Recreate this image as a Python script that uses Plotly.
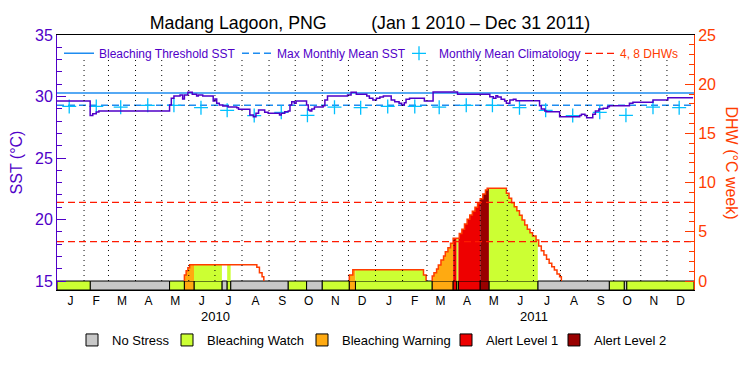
import pandas as pd
import plotly.graph_objects as go

# ---------------- data ----------------
TITLE = "Madang Lagoon, PNG" + "\u00a0" * 9 + "(Jan 1 2010 \u2013 Dec 31 2011)"
START, END = "2010-01-01", "2012-01-01"

SST_DATES = [
    "2010-01-01", "2010-02-08", "2010-02-11", "2010-02-15", "2010-02-18", "2010-05-10",
    "2010-05-12", "2010-05-15", "2010-05-22", "2010-05-25", "2010-05-27", "2010-05-31",
    "2010-06-05", "2010-06-10", "2010-06-12", "2010-06-17", "2010-06-29", "2010-07-01",
    "2010-07-03", "2010-07-06", "2010-07-10", "2010-07-16", "2010-07-26", "2010-07-28",
    "2010-08-10", "2010-08-14", "2010-08-17", "2010-08-20", "2010-08-27", "2010-08-31",
    "2010-09-13", "2010-09-15", "2010-09-19", "2010-09-23", "2010-09-25", "2010-09-27",
    "2010-09-30", "2010-10-02", "2010-10-14", "2010-10-16", "2010-10-18", "2010-10-20",
    "2010-10-23", "2010-11-02", "2010-11-04", "2010-11-07", "2010-11-30", "2010-12-04",
    "2010-12-10", "2010-12-22", "2010-12-25", "2010-12-29", "2011-01-02", "2011-01-06",
    "2011-01-10", "2011-01-19", "2011-01-23", "2011-01-28", "2011-01-31", "2011-02-03",
    "2011-02-05", "2011-02-09", "2011-02-26", "2011-03-08", "2011-04-05", "2011-05-12",
    "2011-05-16", "2011-05-19", "2011-05-21", "2011-05-25", "2011-05-29", "2011-05-31",
    "2011-06-04", "2011-06-08", "2011-06-11", "2011-07-08", "2011-07-10", "2011-07-14",
    "2011-07-16", "2011-07-31", "2011-08-23", "2011-08-25", "2011-08-29", "2011-08-31",
    "2011-09-07", "2011-09-10", "2011-09-14", "2011-09-19", "2011-09-24", "2011-09-26",
    "2011-10-19", "2011-10-23", "2011-11-15", "2011-12-02", "2011-12-31",
]
SST_VALUES = [
    29.63, 28.45, 28.60, 28.75, 28.82, 29.31,
    29.85, 30.04, 30.12, 29.80, 30.12, 30.34,
    30.18, 30.04, 30.12, 30.04, 29.63, 29.80,
    29.45, 29.31, 29.23, 29.15, 29.09, 28.96,
    28.50, 28.36, 28.63, 28.90, 28.72, 28.63,
    28.50, 28.63, 28.77, 28.82, 29.31, 29.58,
    29.45, 29.63, 29.31, 28.90, 28.82, 28.98,
    29.15, 29.25, 29.72, 30.04, 30.12, 30.34,
    30.18, 30.04, 29.85, 29.72, 29.85, 29.96,
    30.04, 29.72, 29.58, 29.45, 29.31, 29.50,
    29.77, 29.85, 29.63, 30.37, 30.18, 29.98,
    29.85, 30.07, 29.96, 29.77, 29.63, 29.45,
    29.72, 29.77, 29.66, 29.25, 28.98, 28.82,
    28.77, 28.36, 28.45, 28.55, 28.45, 28.28,
    28.55, 28.82, 28.98, 29.04, 29.17, 29.25,
    29.45, 29.53, 29.72, 29.90, 29.90,
]

# monthly mean climatology (Jan..Dec), shown for both years
CLIM_MONTHLY = [29.19, 29.19, 29.13, 29.28, 29.28, 29.09, 28.88, 28.45, 28.71, 28.47, 29.13, 29.09]

DHW_DATES = [
    "2010-05-27", "2010-05-29", "2010-05-31", "2010-06-02", "2010-08-18", "2010-08-21",
    "2010-08-24", "2010-08-26",
    "2010-12-02", "2010-12-06", "2011-02-25", "2011-02-28",
    "2011-03-07", "2011-03-09", "2011-03-12", "2011-03-14", "2011-03-17", "2011-03-20",
    "2011-03-22", "2011-03-25", "2011-03-28", "2011-03-31", "2011-04-07", "2011-04-10",
    "2011-04-13", "2011-04-16", "2011-04-19", "2011-04-22", "2011-04-25", "2011-04-28",
    "2011-05-01", "2011-05-04", "2011-05-07", "2011-05-09", "2011-05-31", "2011-06-03",
    "2011-06-06", "2011-06-09", "2011-06-12", "2011-06-15", "2011-06-18", "2011-06-21",
    "2011-06-24", "2011-06-27", "2011-06-30", "2011-07-04", "2011-07-07", "2011-07-10",
    "2011-07-13", "2011-07-16", "2011-07-19", "2011-07-22", "2011-07-25", "2011-07-28",
    "2011-07-31", "2011-08-02",
]
DHW_VALUES = [
    0.60, 1.05, 1.35, 1.66, 1.39, 0.84,
    0.44, 0.0,
    0.60, 1.15, 0.60, 0.0,
    0.51, 0.85, 1.22, 1.63, 2.13, 2.54,
    2.98, 3.39, 3.83, 4.34, 4.84, 5.25,
    5.79, 6.27, 6.71, 7.08, 7.49, 7.93,
    8.37, 8.84, 9.25, 9.42, 8.91, 8.40,
    7.96, 7.55, 7.15, 6.68, 6.20, 5.69,
    5.25, 4.91, 4.57, 4.17, 3.56, 3.08,
    2.64, 2.20, 1.80, 1.45, 1.12, 0.71,
    0.44, 0.0,
]
DHW_LEVELS = [4, 8]

STATUS_START = [
    "2010-01-01", "2010-02-08", "2010-05-10", "2010-05-27", "2010-06-07", "2010-07-09",
    "2010-07-15", "2010-07-19", "2010-09-23", "2010-10-14", "2010-11-01", "2010-12-02",
    "2010-12-09", "2011-03-07", "2011-03-31", "2011-04-04", "2011-04-06", "2011-05-01",
    "2011-05-11", "2011-07-06", "2011-09-26", "2011-10-13", "2011-10-16",
]
STATUS_CODE = [1, 0, 1, 2, 1, 0, 1, 0, 1, 0, 1, 2, 1, 2, 3, 1, 3, 4, 1, 0, 1, 0, 1]
STATUS_NAMES = ["No Stress", "Bleaching Watch", "Bleaching Warning", "Alert Level 1", "Alert Level 2"]
STATUS_COLORS = ["#C8C8C8", "#CCFF33", "#FFAA11", "#EE0000", "#990000"]

MONTH_LETTERS = list("JFMAMJJASOND") * 2
YEARS = ["2010", "2011"]

# ---------------- styling / layout ----------------
PURPLE = "#5000C8"
BLUE = "#1E8CF0"
CYAN = "#00C0FF"
ORANGE = "#FF3C00"
FONT = "Liberation Sans, Arial, sans-serif"
SST_RANGE = [14.27, 35]
DHW_RANGE = [(SST_RANGE[0] - 15) * 1.25, 25]
FIG_W, FIG_H = 742, 367   # page body adds an 8px offset
PLOT_L, PLOT_W, PLOT_T, PLOT_B = 57, 637, 35, 290
# legend entry origins (page px): top legend, bottom status legend
TOP_LEG_X = [59, 237, 399, 580]
BOT_LEG_X = [72, 167, 302, 446, 554]


def px_x(px):
    return (px - PLOT_L) / PLOT_W


def px_y(py):
    return (PLOT_B - py) / (PLOT_B - PLOT_T)


start, end = pd.Timestamp(START), pd.Timestamp(END)
month_starts = pd.date_range(START, periods=25, freq="MS")
month_mids = [a + (b - a) / 2 for a, b in zip(month_starts[:-1], month_starts[1:])]
clim_x = [pd.Timestamp(f"{y}-{m:02d}-15") for y in YEARS for m in range(1, 13)]
clim_y = CLIM_MONTHLY * len(YEARS)
mmm = max(CLIM_MONTHLY)
threshold = mmm + 1

top_legs = ["legend", "legend2", "legend3", "legend4"]
bot_legs = ["legend5", "legend6", "legend7", "legend8", "legend9"]

fig = go.Figure()

# SST-axis traces
fig.add_trace(go.Scatter(x=[start, end], y=[threshold, threshold], mode="lines",
                         line=dict(color=BLUE, width=1.5), name="Bleaching Threshold SST",
                         legend=top_legs[0], hoverinfo="skip"))
fig.add_trace(go.Scatter(x=[start, end], y=[mmm, mmm], mode="lines",
                         line=dict(color=BLUE, width=1.5, dash="7px,4px"),
                         name="Max Monthly Mean SST", legend=top_legs[1], hoverinfo="skip"))
fig.add_trace(go.Scatter(x=clim_x, y=clim_y, mode="markers",
                         marker=dict(symbol="cross-thin-open", size=10,
                                     line=dict(color=CYAN, width=1.3), color=CYAN),
                         name="Monthly Mean Climatology", legend=top_legs[2]))
fig.add_trace(go.Scatter(x=pd.to_datetime(SST_DATES), y=SST_VALUES, mode="lines",
                         line=dict(color=PURPLE, width=1.5, shape="hv"),
                         showlegend=False, name="SST"))

# status bar (DHW axis, below 0)
seg_start = pd.to_datetime(STATUS_START)
seg_end = list(seg_start[1:]) + [end]
for code, (nm, col) in enumerate(zip(STATUS_NAMES, STATUS_COLORS)):
    idx = [i for i, c in enumerate(STATUS_CODE) if c == code]
    mids = [seg_start[i] + (seg_end[i] - seg_start[i]) / 2 for i in idx]
    widths = [(seg_end[i] - seg_start[i]).total_seconds() * 1000 for i in idx]
    fig.add_trace(go.Bar(x=mids, y=[-DHW_RANGE[0]] * len(idx), base=[DHW_RANGE[0]] * len(idx),
                         width=widths, yaxis="y2", name=nm, legend=bot_legs[code],
                         marker=dict(color=col, line=dict(color="black", width=1))))

# DHW fills coloured by status
dhw = pd.Series(DHW_VALUES, index=pd.to_datetime(DHW_DATES))


def dhw_at(t):
    v = dhw.asof(t)
    return 0.0 if pd.isna(v) else float(v)


for i, code in enumerate(STATUS_CODE):
    if code == 0:
        continue
    s, e = seg_start[i], seg_end[i]
    bps = [t for t in dhw.index if s < t < e]
    xs = [s] + bps + [e]
    ys = [dhw_at(s)] + [float(dhw[t]) for t in bps]
    ys.append(ys[-1])
    if max(ys) <= 0:
        continue
    fig.add_trace(go.Scatter(x=xs, y=ys, yaxis="y2", mode="lines",
                             line=dict(width=0, shape="hv"), fill="tozeroy",
                             fillcolor=STATUS_COLORS[code], showlegend=False, hoverinfo="skip"))

# DHW outline
ox, oy, prev = [], [], 0.0
for t, v in zip(dhw.index, DHW_VALUES):
    if v > 0 and prev == 0:
        ox.append(t); oy.append(0)
    ox.append(t); oy.append(v)
    if v == 0 and prev > 0:
        ox.append(None); oy.append(None)
    prev = v
fig.add_trace(go.Scatter(x=ox, y=oy, yaxis="y2", mode="lines",
                         line=dict(color=ORANGE, width=1.5, shape="hv"),
                         showlegend=False, hoverinfo="skip"))

# 4, 8 DHW lines
lx, ly = [], []
for lv in DHW_LEVELS:
    lx += [start, end, None]
    ly += [lv, lv, None]
fig.add_trace(go.Scatter(x=lx, y=ly, yaxis="y2", mode="lines",
                         line=dict(color="#FF1A00", width=1.2, dash="7px,4px"),
                         name=f'<span style="color:{ORANGE}">4, 8 DHWs</span>',
                         legend=top_legs[3], hoverinfo="skip"))

# dotted month separators
top_dhw = (33 - 15) * 1.25
vx, vy = [], []
for t in month_starts[1:-1]:
    vx += [t, t, None]
    vy += [0, top_dhw, None]
fig.add_trace(go.Scatter(x=vx, y=vy, yaxis="y2", mode="lines",
                         line=dict(color="black", width=1, dash="1px,4px"),
                         showlegend=False, hoverinfo="skip"))

annotations = [
    dict(text="DHW (\u00b0C week)", x=px_x(731), y=0.5, xref="paper", yref="paper",
         xanchor="center", yanchor="middle",
         textangle=90, showarrow=False, font=dict(size=16, color=ORANGE)),
]
for y in YEARS:
    annotations.append(dict(text=y, x=pd.Timestamp(f"{y}-07-02"), y=px_y(316), xref="x", yref="paper",
                            xanchor="center", yanchor="middle",
                            showarrow=False, font=dict(size=13, color="black")))

legend_layout = {}
for name, lx0 in zip(top_legs, TOP_LEG_X):
    legend_layout[name] = dict(orientation="h", x=px_x(lx0), y=0.985, xanchor="left", yanchor="top",
                               bgcolor="rgba(0,0,0,0)", font=dict(size=12, color=PURPLE), itemwidth=30)
for name, lx0 in zip(bot_legs, BOT_LEG_X):
    legend_layout[name] = dict(orientation="h", x=px_x(lx0), y=px_y(340), xanchor="left",
                               yanchor="middle", bgcolor="rgba(0,0,0,0)",
                               font=dict(size=13, color="black"), itemwidth=30)

fig.update_layout(
    width=FIG_W, height=FIG_H, margin=dict(l=49, r=56, t=27, b=85, autoexpand=False),
    paper_bgcolor="white", plot_bgcolor="white",
    font=dict(family=FONT, color="black"),
    title=dict(text=TITLE, x=(370 - 8) / FIG_W, xref="container", xanchor="center",
               y=1 - 15 / FIG_H, yanchor="middle", font=dict(size=17.8, color="black")),
    barmode="overlay",
    xaxis=dict(type="date", range=[start, end], showline=True, linecolor="black", linewidth=1,
               mirror=True, ticks="", showgrid=False, zeroline=False, tickmode="array",
               tickvals=month_mids, ticktext=MONTH_LETTERS, tickangle=0,
               tickfont=dict(size=12, color="black")),
    yaxis=dict(range=SST_RANGE, tick0=0, dtick=5, ticks="inside", ticklen=9, tickcolor=PURPLE,
               showline=True, linecolor=PURPLE, linewidth=1, showgrid=False, zeroline=False,
               minor=dict(ticks="inside", ticklen=5, dtick=1, tick0=0, tickcolor=PURPLE, showgrid=False),
               tickfont=dict(size=16, color=PURPLE),
               title=dict(text="SST (\u00b0C)", font=dict(size=16, color=PURPLE), standoff=8)),
    yaxis2=dict(range=DHW_RANGE, overlaying="y", side="right", tick0=0, dtick=5, ticks="inside",
                ticklen=9, tickcolor=ORANGE, showline=True, linecolor=ORANGE, linewidth=1,
                showgrid=False, zeroline=False,
                minor=dict(ticks="inside", ticklen=5, dtick=1, tick0=0, tickcolor=ORANGE, showgrid=False),
                tickfont=dict(size=16, color=ORANGE)),
    annotations=annotations,
    **legend_layout,
)

fig.write_html("out.html")
